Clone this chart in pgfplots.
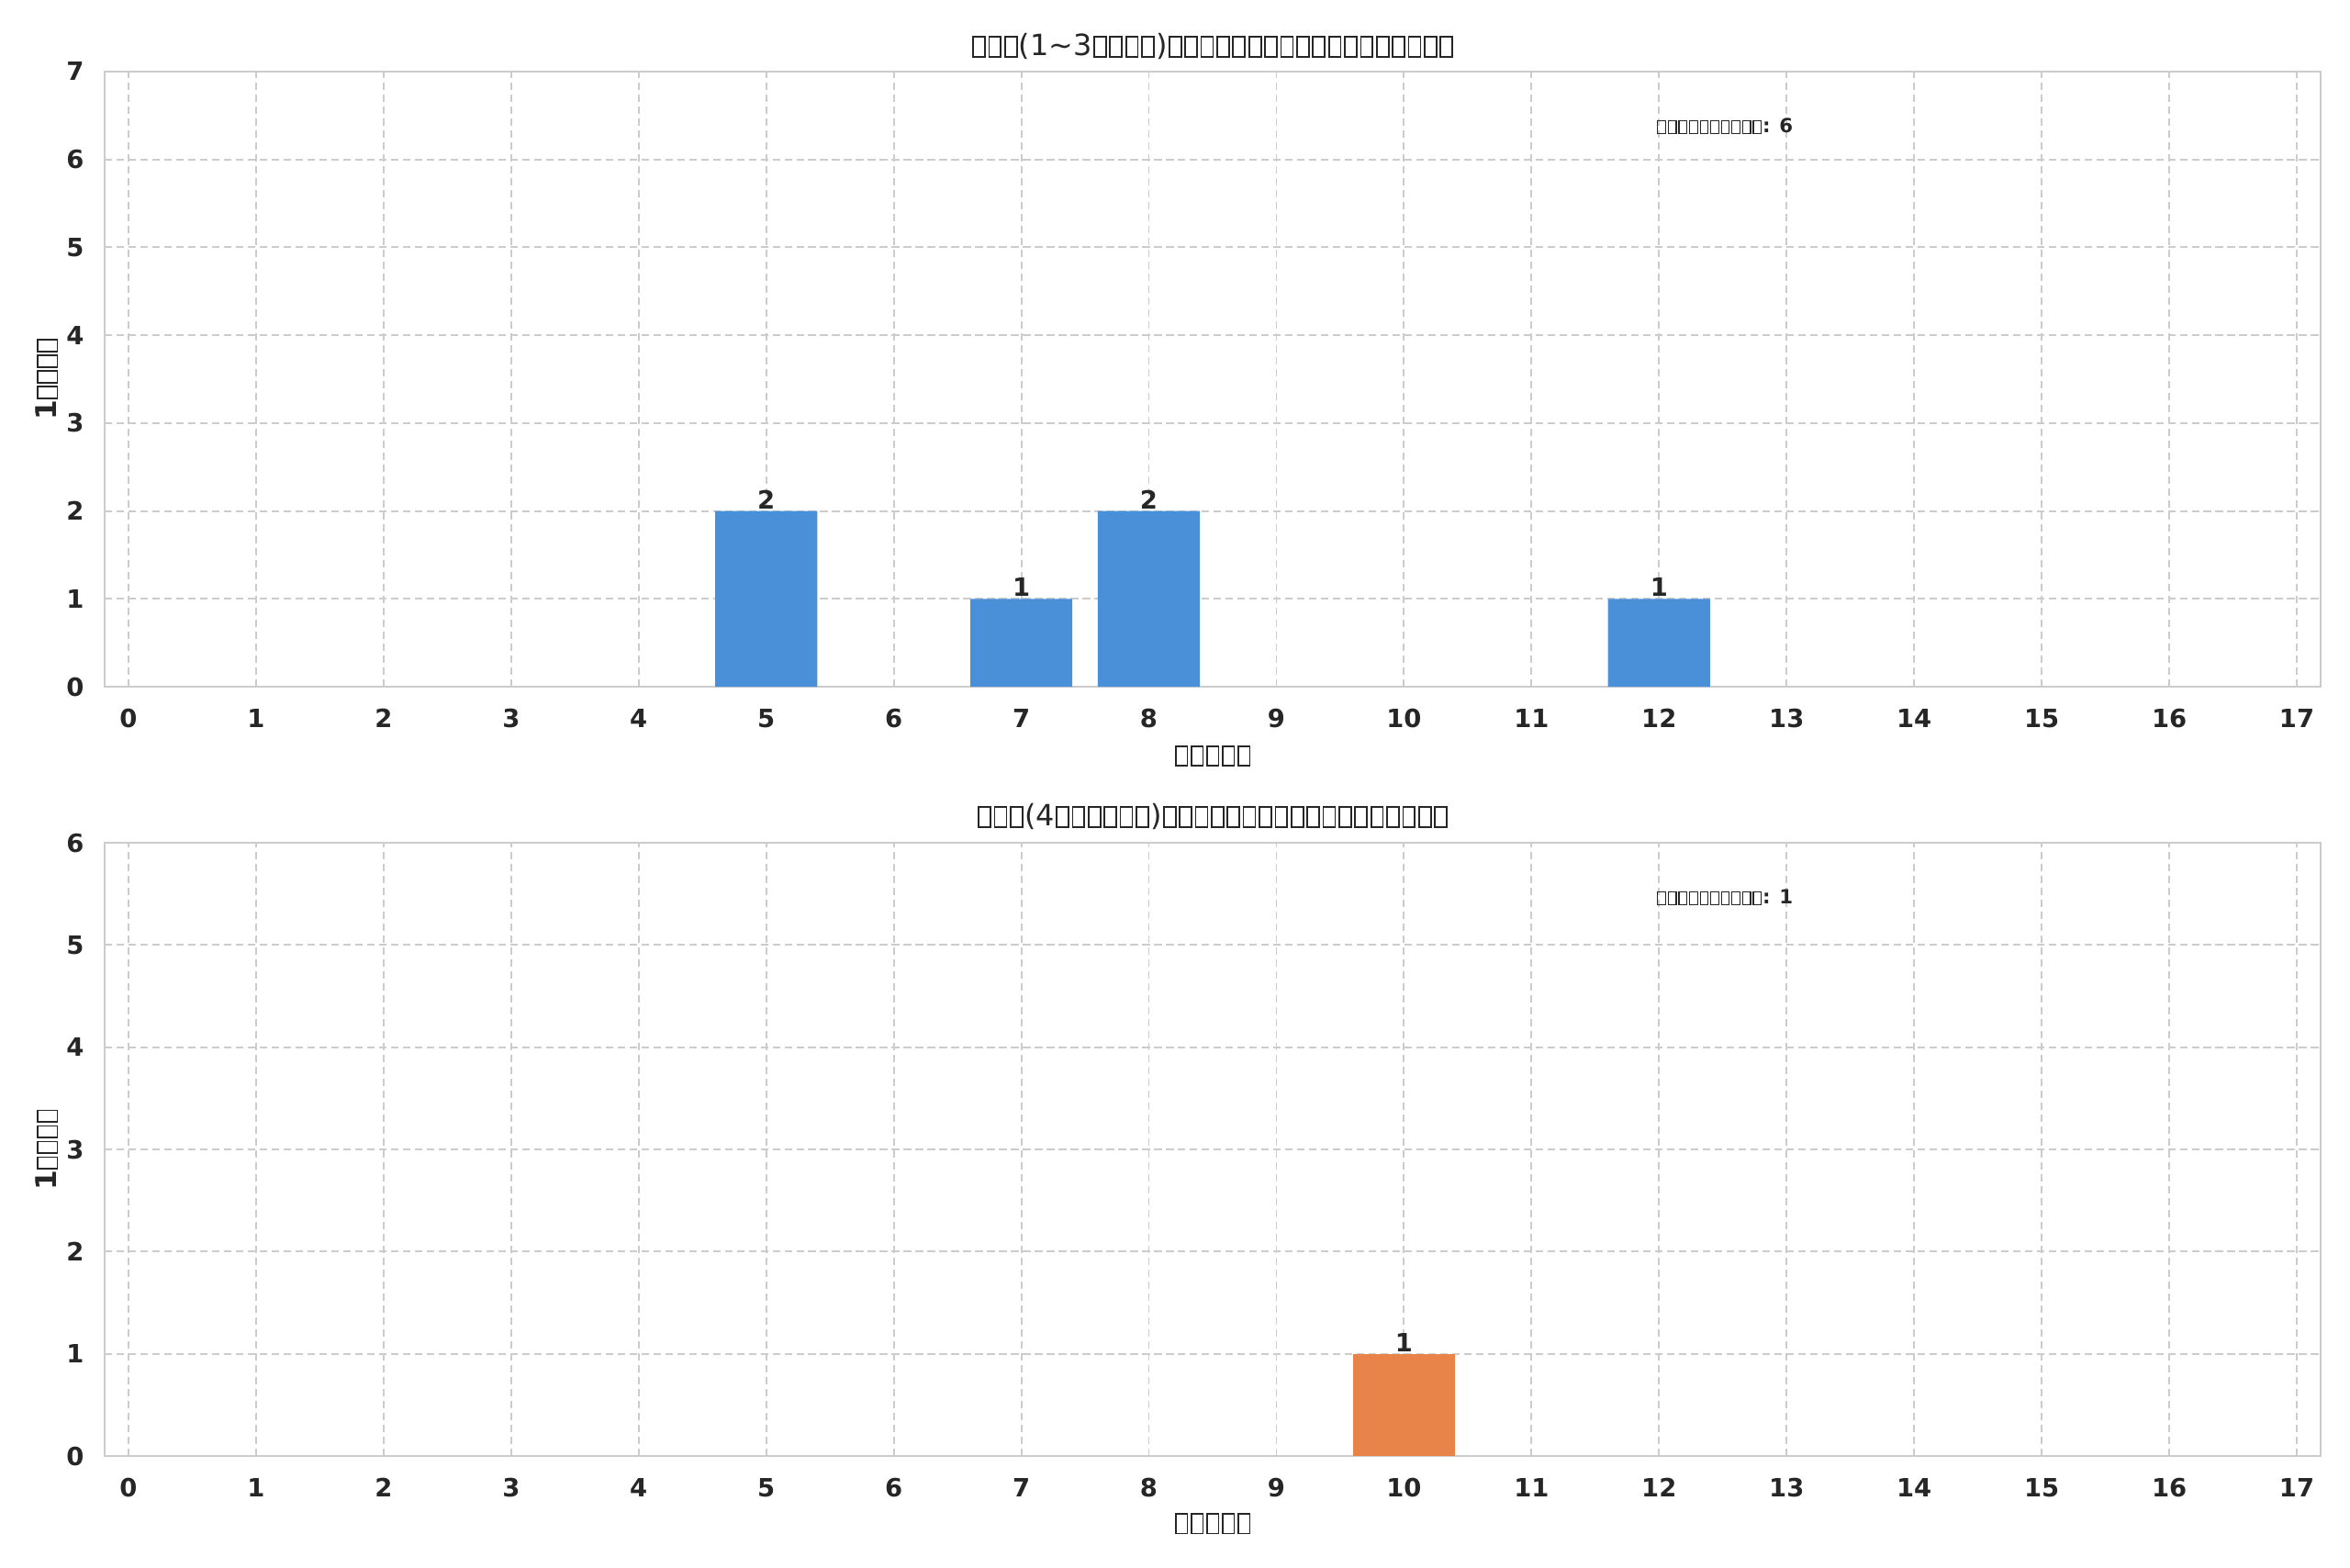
\documentclass[border=0pt]{standalone}
\usepackage{pgfplots}
\pgfplotsset{compat=1.18}
\usepackage{fontspec}
\setmainfont{DejaVu Sans}
\definecolor{txt}{HTML}{262626}
\definecolor{gridc}{HTML}{CCCCCC}
\definecolor{barblue}{HTML}{4A90D9}
\definecolor{barorange}{HTML}{E8834A}
\newcount\tcnt
\newcommand\tofu{\kern0.0425em{\fboxsep=0pt\fboxrule=0.055em\raisebox{-0.01em}{\fbox{\rule{0pt}{0.63em}\kern0.35em}}}\kern0.0425em}
\newcommand\tofus[1]{\tcnt=#1\relax\loop\ifnum\tcnt>0 \tofu\advance\tcnt-1\repeat}
\newcommand\tickfont{\fontsize{11.6}{14}\selectfont\bfseries}
\newcommand\titlefont{\fontsize{13.5}{16}\selectfont}
\newcommand\labfont{\fontsize{13.2}{16}\selectfont\bfseries}
\newcommand\annfont{\fontsize{9}{11}\selectfont\bfseries}
\pgfplotsset{common/.style={
  scale only axis, width=1022pt,
  xmin=-0.187, xmax=17.187, ymin=0,
  xtick={0,...,17},
  axis line style={gridc, line width=1.2pt},
  grid=major,
  grid style={gridc, line width=0.8pt, dash pattern=on 3.5pt off 2pt},
  major tick length=0pt,
  tick label style={font=\tickfont, text=txt},
  /pgf/number format/assume math mode=true,
  xticklabel style={inner sep=0pt, anchor=north, yshift=-10.2pt},
  yticklabel style={inner sep=0pt, anchor=east, xshift=-9.3pt},
  ybar, bar width=0.8,
  nodes near coords,
  nodes near coords style={font=\tickfont, text=txt, anchor=base, inner sep=0pt, yshift=1pt},
}}
\begin{document}
\begin{tikzpicture}[x=1pt,y=1pt]
\path[use as bounding box] (0,0) rectangle (1083.8,722.7);
% top
\begin{axis}[common, at={(48.26pt,406.0pt)}, anchor=south west, height=283.7pt,
  ymax=7, ytick={0,...,7}]
\addplot[fill=barblue, draw=none] coordinates {(5,2) (7,1) (8,2) (12,1)};
\node[anchor=base west, font=\annfont, text=txt, inner sep=0pt] at (rel axis cs:0.7,0.9) {\tofus{10}: 6};
\end{axis}
% bottom
\begin{axis}[common, at={(48.26pt,51.23pt)}, anchor=south west, height=282.8pt,
  ymax=6, ytick={0,...,6}]
\addplot[fill=barorange, draw=none] coordinates {(10,1)};
\node[anchor=base west, font=\annfont, text=txt, inner sep=0pt] at (rel axis cs:0.7,0.9) {\tofus{10}: 1};
\end{axis}
% titles
\node[anchor=base, font=\titlefont, text=txt, inner sep=0pt] at (559.3,696.9) {\tofus{3}(1\textasciitilde3\tofus{4})\tofus{18}};
\node[anchor=base, font=\titlefont, text=txt, inner sep=0pt] at (559.3,341.9) {\tofus{3}(4\tofus{6})\tofus{18}};
% x labels
\node[anchor=base, font=\labfont, text=txt, inner sep=0pt] at (559.3,370.0) {\tofus{5}};
\node[anchor=base, font=\labfont, text=txt, inner sep=0pt] at (559.3,16.0) {\tofus{5}};
% y labels
\node[anchor=base, rotate=90, font=\labfont, text=txt, inner sep=0pt] at (26.0,547.9) {1\tofus{4}};
\node[anchor=base, rotate=90, font=\labfont, text=txt, inner sep=0pt] at (26.0,192.6) {1\tofus{4}};
\end{tikzpicture}
\end{document}
